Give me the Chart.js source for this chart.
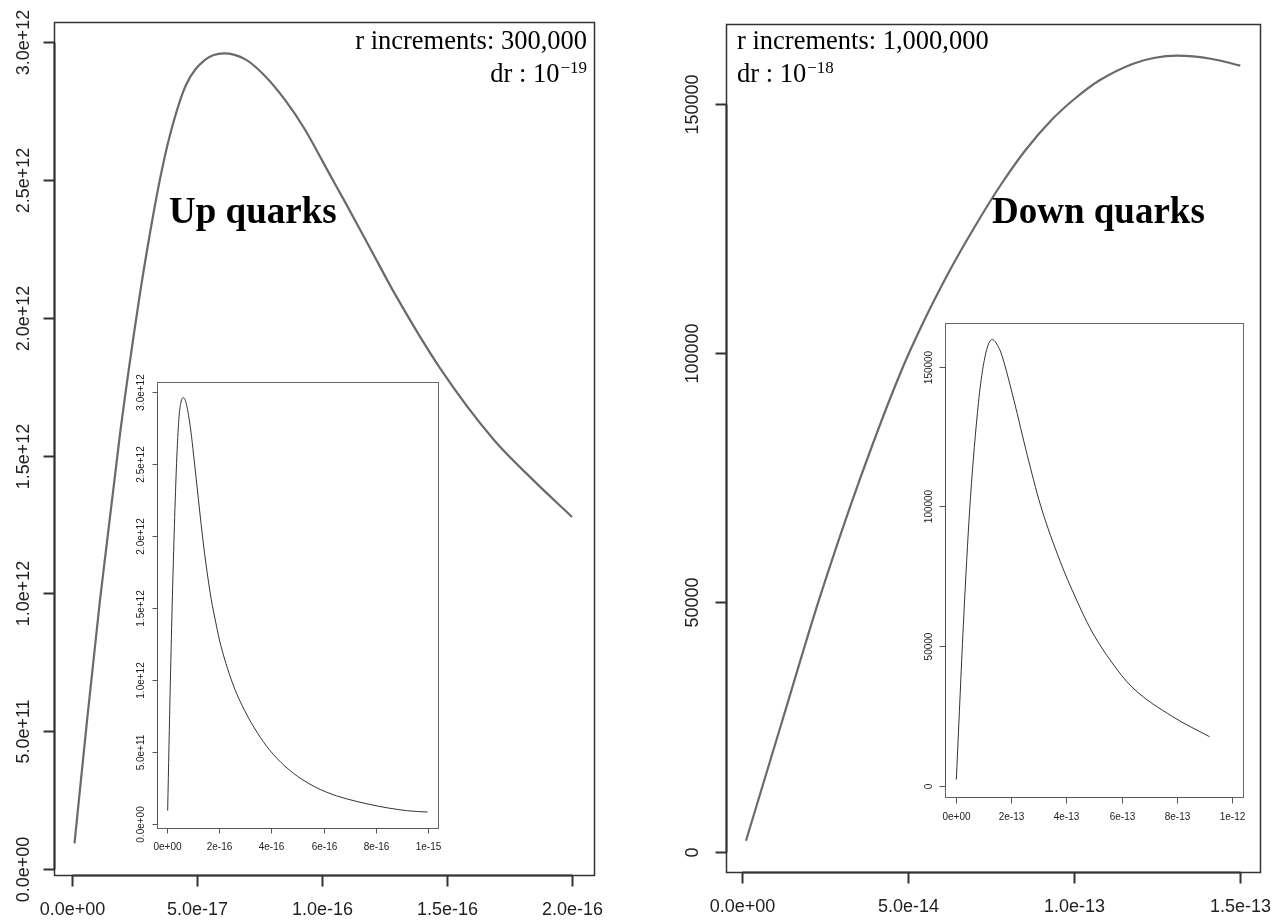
<!DOCTYPE html>
<html>
<head>
<meta charset="utf-8">
<script src="https://cdn.jsdelivr.net/npm/chart.js@4.4.0/dist/chart.umd.min.js"></script>
<style>
html, body { margin: 0; padding: 0; background: #fff; }
#wrap { position: relative; width: 1283px; height: 920px; overflow: hidden; background: #fff; }
#wrap canvas { position: absolute; left: 0; top: 0; }
</style>
</head>
<body>
<div id="wrap">
  <canvas id="upMain" width="1283" height="920"></canvas>
  <canvas id="upInset" width="1283" height="920"></canvas>
  <canvas id="downMain" width="1283" height="920"></canvas>
  <canvas id="downInset" width="1283" height="920"></canvas>
</div>
<script>
// ---------------- DATA ----------------
// Up quarks: r (m) and value
const upR = [1e-18, 6.0e-18, 1.12e-17, 1.92e-17, 2.68e-17, 3.12e-17, 3.52e-17, 3.92e-17, 4.56e-17, 5.32e-17,
             6.08e-17, 6.92e-17, 7.72e-17, 8.52e-17, 9.28e-17, 1.032e-16, 1.092e-16, 1.192e-16, 1.296e-16,
             1.472e-16, 1.688e-16, 1.848e-16, 2.0e-16,
             2.5e-16, 2.98e-16, 3.45e-16, 3.92e-16, 4.52e-16, 5.17e-16, 6.11e-16, 7.67e-16, 9.23e-16, 1.0e-15];
const upF = [0.093e12, 0.537e12, 0.976e12, 1.578e12, 2.064e12, 2.307e12, 2.503e12, 2.663e12, 2.844e12, 2.935e12,
             2.959e12, 2.938e12, 2.877e12, 2.790e12, 2.688e12, 2.518e12, 2.420e12, 2.253e12, 2.079e12,
             1.817e12, 1.556e12, 1.408e12, 1.277e12,
             0.979e12, 0.783e12, 0.635e12, 0.515e12, 0.401e12, 0.310e12, 0.221e12, 0.140e12, 0.092e12, 0.083e12];
const upMainMaxR = 2.0e-16;

// Down quarks: r (m) and value
const downR = [1.11e-15, 1.238e-14, 2.31e-14, 3.545e-14, 4.75e-14, 5.398e-14, 6.256e-14, 6.979e-14, 7.762e-14,
               8.515e-14, 9.313e-14, 1.0021e-13, 1.0774e-13, 1.1792e-13, 1.2431e-13, 1.3093e-13, 1.4147e-13, 1.5e-13,
               1.62e-13, 1.7256e-13, 2.097e-13, 2.581e-13, 3.061e-13, 3.783e-13, 4.303e-13, 4.895e-13, 5.635e-13,
               6.375e-13, 7.855e-13, 9.187e-13];
const downF = [2207, 27021, 50501, 74774, 95837, 105466, 116699, 125124, 133541,
               140622, 146780, 151093, 154804, 158133, 159276, 159678, 159016, 157700,
               155200, 152000, 137988, 118303, 100407, 80063, 67894, 55725, 44273,
               35325, 24695, 17537];
const downMainMaxR = 1.5e-13;

// Tick values and labels
const upTicksX = [0, 5e-17, 1e-16, 1.5e-16, 2e-16];
const upTickLabelsX = ['0.0e+00', '5.0e-17', '1.0e-16', '1.5e-16', '2.0e-16'];
const upTicksY = [0, 5e11, 1e12, 1.5e12, 2e12, 2.5e12, 3e12];
const upTickLabelsY = ['0.0e+00', '5.0e+11', '1.0e+12', '1.5e+12', '2.0e+12', '2.5e+12', '3.0e+12'];
const upInsetTicksX = [0, 2e-16, 4e-16, 6e-16, 8e-16, 1e-15];
const upInsetTickLabelsX = ['0e+00', '2e-16', '4e-16', '6e-16', '8e-16', '1e-15'];

const downTicksX = [0, 5e-14, 1e-13, 1.5e-13];
const downTickLabelsX = ['0.0e+00', '5.0e-14', '1.0e-13', '1.5e-13'];
const downTicksY = [0, 50000, 100000, 150000];
const downTickLabelsY = ['0', '50000', '100000', '150000'];
const downInsetTicksX = [0, 2e-13, 4e-13, 6e-13, 8e-13, 1e-12];
const downInsetTickLabelsX = ['0e+00', '2e-13', '4e-13', '6e-13', '8e-13', '1e-12'];

// Annotation texts
const upTitle = 'Up quarks';
const downTitle = 'Down quarks';
const upNote1 = 'r increments: 300,000';
const upNote2 = 'dr : 10';
const upNote2Sup = '\u221219';
const downNote1 = 'r increments: 1,000,000';
const downNote2 = 'dr : 10';
const downNote2Sup = '\u221218';

// ---------------- RENDERING ----------------
const W = 1283, H = 920;
const TICK_FONT = '"Liberation Sans", Arial, Helvetica, sans-serif';
const SERIF = '"Liberation Serif", "Times New Roman", Times, serif';

function pts(rs, fs, maxR) {
  const out = [];
  for (let i = 0; i < rs.length; i++) {
    if (maxR === undefined || rs[i] <= maxR * 1.0000001) out.push({ x: rs[i], y: fs[i] });
  }
  return out;
}

function drawTextSup(ctx, t) {
  ctx.save();
  ctx.fillStyle = '#000';
  ctx.textBaseline = 'alphabetic';
  ctx.textAlign = 'left';
  ctx.font = t.font;
  const w1 = ctx.measureText(t.text).width;
  let w2 = 0;
  if (t.sup) { ctx.font = t.supFont; w2 = ctx.measureText(t.sup).width + 1; }
  const x0 = t.align === 'right' ? t.x - w1 - w2 : t.x;
  ctx.font = t.font;
  ctx.fillText(t.text, x0, t.y);
  if (t.sup) { ctx.font = t.supFont; ctx.fillText(t.sup, x0 + w1 + 1, t.y - t.supRise); }
  ctx.restore();
}

const rAxes = {
  id: 'rAxes',
  beforeDatasetsDraw(chart, args, o) {
    if (!o.bg) return;
    const a = chart.chartArea, ctx = chart.ctx;
    ctx.save();
    ctx.fillStyle = '#fff';
    ctx.fillRect(a.left, a.top, a.right - a.left, a.bottom - a.top);
    ctx.restore();
  },
  afterDraw(chart, args, o) {
    const ctx = chart.ctx, a = chart.chartArea;
    const xs = chart.scales.x, ys = chart.scales.y;
    const L = Math.round(a.left) + 0.5, R = Math.round(a.right) + 0.5;
    const T = Math.round(a.top) + 0.5, B = Math.round(a.bottom) + 0.5;
    ctx.save();
    ctx.strokeStyle = o.boxColor;
    ctx.lineWidth = o.boxWidth;
    ctx.strokeRect(L, T, R - L, B - T);
    ctx.strokeStyle = o.axisColor;
    ctx.lineWidth = o.axisWidth;
    const xp = o.ticksX.map(v => Math.round(xs.getPixelForValue(v)) + 0.5);
    const yp = o.ticksY.map(v => Math.round(ys.getPixelForValue(v)) + 0.5);
    ctx.beginPath();
    ctx.moveTo(xp[0], B); ctx.lineTo(xp[xp.length - 1], B);
    ctx.moveTo(L, yp[0]); ctx.lineTo(L, yp[yp.length - 1]);
    xp.forEach(p => { ctx.moveTo(p, B); ctx.lineTo(p, B + o.tickLen); });
    yp.forEach(p => { ctx.moveTo(L, p); ctx.lineTo(L - o.tickLen, p); });
    ctx.stroke();
    ctx.fillStyle = o.labelColor;
    ctx.font = o.labelSize + 'px ' + TICK_FONT;
    ctx.textAlign = 'center';
    ctx.textBaseline = 'middle';
    xp.forEach((p, i) => ctx.fillText(o.labelsX[i], p, a.bottom + o.xLabelOffset));
    yp.forEach((p, i) => {
      ctx.save();
      ctx.translate(a.left - o.yLabelOffset, p);
      ctx.rotate(-Math.PI / 2);
      ctx.fillText(o.labelsY[i], 0, 0);
      ctx.restore();
    });
    ctx.restore();
    (o.texts || []).forEach(t => drawTextSup(ctx, t));
  }
};

function makeChart(id, spec) {
  return new Chart(document.getElementById(id), {
    type: 'line',
    data: {
      datasets: [{
        data: spec.points,
        borderColor: spec.lineColor,
        borderWidth: spec.lineWidth,
        pointRadius: 0,
        fill: false,
        cubicInterpolationMode: 'monotone'
      }]
    },
    options: {
      responsive: false,
      animation: false,
      devicePixelRatio: 1,
      events: [],
      layout: { padding: { left: spec.area[0], top: spec.area[1], right: W - spec.area[2], bottom: H - spec.area[3] } },
      plugins: { legend: { display: false }, tooltip: { enabled: false }, rAxes: spec.axes },
      scales: {
        x: { type: 'linear', display: false, min: spec.xRange[0], max: spec.xRange[1] },
        y: { type: 'linear', display: false, min: spec.yRange[0], max: spec.yRange[1] }
      }
    },
    plugins: [rAxes]
  });
}

makeChart('upMain', {
  points: pts(upR, upF, upMainMaxR),
  lineColor: '#6a6a6a', lineWidth: 2.2,
  area: [54, 22, 594, 875],
  xRange: [-7.2e-18, 2.088e-16],
  yRange: [-2.18e10, 3.0726e12],
  axes: {
    ticksX: upTicksX, labelsX: upTickLabelsX, ticksY: upTicksY, labelsY: upTickLabelsY,
    boxColor: '#333', boxWidth: 1.5, axisColor: '#333', axisWidth: 2, tickLen: 11,
    labelColor: '#222', labelSize: 18, xLabelOffset: 35, yLabelOffset: 30,
    texts: [
      { text: upNote1, x: 587, y: 49, align: 'right', font: '26.5px ' + SERIF },
      { text: upNote2, sup: upNote2Sup, x: 587, y: 82, align: 'right', font: '26.5px ' + SERIF, supFont: '17px ' + SERIF, supRise: 9 },
      { text: upTitle, x: 169, y: 223, align: 'left', font: 'bold 37px ' + SERIF }
    ]
  }
});

makeChart('upInset', {
  points: pts(upR, upF),
  lineColor: '#333', lineWidth: 1,
  area: [157, 382, 438, 828],
  xRange: [-4e-17, 1.04e-15],
  yRange: [-2.78e10, 3.067e12],
  axes: {
    bg: true,
    ticksX: upInsetTicksX, labelsX: upInsetTickLabelsX, ticksY: upTicksY, labelsY: upTickLabelsY,
    boxColor: '#666', boxWidth: 1, axisColor: '#555', axisWidth: 1, tickLen: 5,
    labelColor: '#222', labelSize: 10, xLabelOffset: 19, yLabelOffset: 16
  }
});

makeChart('downMain', {
  points: pts(downR, downF, downMainMaxR),
  lineColor: '#6a6a6a', lineWidth: 2.2,
  area: [726, 24, 1260, 872],
  xRange: [-4.91e-15, 1.5593e-13],
  yRange: [-4072, 166040],
  axes: {
    ticksX: downTicksX, labelsX: downTickLabelsX, ticksY: downTicksY, labelsY: downTickLabelsY,
    boxColor: '#333', boxWidth: 1.5, axisColor: '#333', axisWidth: 2, tickLen: 11,
    labelColor: '#222', labelSize: 18, xLabelOffset: 35, yLabelOffset: 33,
    texts: [
      { text: downNote1, x: 737, y: 49, align: 'left', font: '26.5px ' + SERIF },
      { text: downNote2, sup: downNote2Sup, x: 737, y: 82, align: 'left', font: '26.5px ' + SERIF, supFont: '17px ' + SERIF, supRise: 9 },
      { text: downTitle, x: 992, y: 223, align: 'left', font: 'bold 37px ' + SERIF }
    ]
  }
});

makeChart('downInset', {
  points: pts(downR, downF),
  lineColor: '#333', lineWidth: 1,
  area: [945, 323, 1243, 797],
  xRange: [-4e-14, 1.04e-12],
  yRange: [-4044, 165600],
  axes: {
    bg: true,
    ticksX: downInsetTicksX, labelsX: downInsetTickLabelsX, ticksY: downTicksY, labelsY: downTickLabelsY,
    boxColor: '#666', boxWidth: 1, axisColor: '#555', axisWidth: 1, tickLen: 6,
    labelColor: '#222', labelSize: 10, xLabelOffset: 20, yLabelOffset: 16
  }
});
</script>
</body>
</html>
